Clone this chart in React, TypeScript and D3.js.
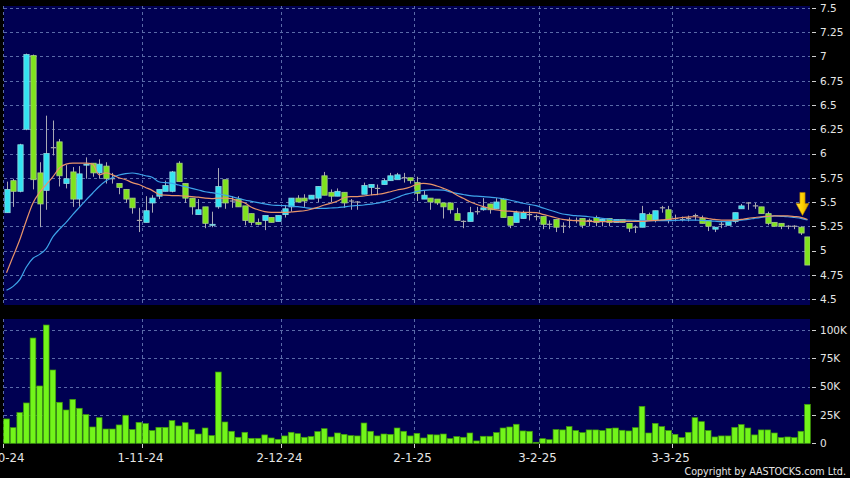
import React from "react";
import * as d3 from "d3";

// Trading days (HK), Oct 2024 - Mar 2025
const dates: string[] = [
  "2024-10-02","2024-10-03","2024-10-04","2024-10-07","2024-10-08","2024-10-09","2024-10-10","2024-10-14","2024-10-15","2024-10-16","2024-10-17","2024-10-18","2024-10-21","2024-10-22","2024-10-23","2024-10-24","2024-10-25","2024-10-28","2024-10-29","2024-10-30","2024-10-31",
  "2024-11-01","2024-11-04","2024-11-05","2024-11-06","2024-11-07","2024-11-08","2024-11-11","2024-11-12","2024-11-13","2024-11-14","2024-11-15","2024-11-18","2024-11-19","2024-11-20","2024-11-21","2024-11-22","2024-11-25","2024-11-26","2024-11-27","2024-11-28","2024-11-29",
  "2024-12-02","2024-12-03","2024-12-04","2024-12-05","2024-12-06","2024-12-09","2024-12-10","2024-12-11","2024-12-12","2024-12-13","2024-12-16","2024-12-17","2024-12-18","2024-12-19","2024-12-20","2024-12-23","2024-12-24","2024-12-27","2024-12-30","2024-12-31",
  "2025-01-02","2025-01-03","2025-01-06","2025-01-07","2025-01-08","2025-01-09","2025-01-10","2025-01-13","2025-01-14","2025-01-15","2025-01-16","2025-01-17","2025-01-20","2025-01-21","2025-01-22","2025-01-23","2025-01-24","2025-01-27","2025-01-28",
  "2025-02-03","2025-02-04","2025-02-05","2025-02-06","2025-02-07","2025-02-10","2025-02-11","2025-02-12","2025-02-13","2025-02-14","2025-02-17","2025-02-18","2025-02-19","2025-02-20","2025-02-21","2025-02-24","2025-02-25","2025-02-26","2025-02-27","2025-02-28",
  "2025-03-03","2025-03-04","2025-03-05","2025-03-06","2025-03-07","2025-03-10","2025-03-11","2025-03-12","2025-03-13","2025-03-14","2025-03-17","2025-03-18","2025-03-19","2025-03-20","2025-03-21","2025-03-24","2025-03-25","2025-03-26","2025-03-27","2025-03-28","2025-03-31",
];

const opens: number[] = [
  5.39,5.72,5.61,6.25,7.01,5.80,5.62,6.06,6.12,5.69,5.81,5.53,5.88,5.90,5.80,5.87,5.74,5.69,5.63,5.54,5.31,
  5.29,5.49,5.56,5.61,5.61,5.90,5.69,5.54,5.37,5.45,5.26,5.45,5.73,5.51,5.53,5.46,5.38,5.29,5.31,5.34,5.30,
  5.37,5.45,5.54,5.54,5.53,5.54,5.77,5.60,5.56,5.60,5.51,5.50,5.58,5.65,5.64,5.68,5.72,5.73,5.75,5.75,
  5.70,5.53,5.54,5.53,5.49,5.49,5.38,5.30,5.30,5.40,5.42,5.48,5.43,5.53,5.35,5.29,5.33,5.37,5.35,
  5.35,5.27,5.32,5.25,5.31,5.31,5.33,5.31,5.34,5.30,5.33,5.29,5.32,5.28,5.24,5.24,5.37,5.31,5.44,5.42,
  5.33,5.32,5.33,5.36,5.33,5.31,5.22,5.27,5.26,5.30,5.43,5.49,5.46,5.45,5.38,5.29,5.28,5.25,5.25,5.24,5.14,
];
const highs: number[] = [
  5.71,5.74,6.10,7.03,7.02,5.91,6.39,6.34,6.15,5.88,5.86,5.87,5.96,5.90,5.94,5.91,5.80,5.69,5.63,5.54,5.44,
  5.56,5.57,5.63,5.72,5.82,5.92,5.69,5.54,5.53,5.45,5.40,5.85,5.73,5.56,5.56,5.46,5.38,5.33,5.36,5.34,5.36,
  5.47,5.54,5.57,5.58,5.57,5.66,5.81,5.63,5.64,5.60,5.53,5.51,5.70,5.68,5.68,5.74,5.80,5.80,5.80,5.75,
  5.76,5.62,5.54,5.53,5.49,5.49,5.44,5.31,5.45,5.45,5.54,5.48,5.54,5.54,5.35,5.41,5.41,5.46,5.37,
  5.35,5.31,5.32,5.29,5.34,5.34,5.33,5.33,5.36,5.32,5.33,5.32,5.32,5.28,5.26,5.46,5.39,5.41,5.46,5.46,
  5.37,5.35,5.36,5.38,5.36,5.31,5.24,5.30,5.30,5.39,5.48,5.50,5.49,5.45,5.40,5.29,5.28,5.26,5.26,5.25,5.14,
];
const lows: number[] = [
  5.39,5.45,5.60,6.24,5.63,5.24,5.42,5.98,5.66,5.64,5.45,5.45,5.74,5.76,5.74,5.69,5.69,5.58,5.49,5.38,5.19,
  5.29,5.39,5.53,5.61,5.60,5.71,5.49,5.37,5.37,5.23,5.24,5.43,5.43,5.44,5.45,5.26,5.26,5.26,5.21,5.29,5.30,
  5.34,5.40,5.50,5.45,5.53,5.50,5.57,5.50,5.56,5.44,5.42,5.42,5.58,5.57,5.57,5.68,5.72,5.73,5.70,5.69,
  5.51,5.53,5.42,5.47,5.33,5.38,5.31,5.23,5.30,5.37,5.41,5.38,5.43,5.34,5.23,5.29,5.33,5.31,5.31,
  5.22,5.22,5.19,5.18,5.23,5.28,5.23,5.25,5.25,5.25,5.25,5.29,5.29,5.19,5.18,5.24,5.31,5.29,5.39,5.28,
  5.30,5.30,5.30,5.31,5.28,5.20,5.19,5.23,5.26,5.28,5.43,5.42,5.43,5.38,5.26,5.25,5.22,5.22,5.22,5.16,4.85,
];
const closes: number[] = [
  5.63,5.61,6.09,7.02,5.73,5.48,6.00,6.06,5.77,5.74,5.53,5.79,5.89,5.80,5.89,5.74,5.74,5.65,5.53,5.44,5.31,
  5.41,5.54,5.63,5.67,5.81,5.71,5.54,5.45,5.42,5.28,5.27,5.66,5.49,5.51,5.45,5.31,5.29,5.27,5.36,5.29,5.36,
  5.43,5.54,5.50,5.51,5.57,5.66,5.57,5.56,5.61,5.49,5.51,5.50,5.67,5.68,5.64,5.72,5.77,5.78,5.75,5.72,
  5.59,5.57,5.50,5.49,5.45,5.42,5.31,5.30,5.39,5.40,5.44,5.42,5.50,5.34,5.26,5.39,5.39,5.37,5.35,
  5.27,5.27,5.24,5.25,5.31,5.31,5.26,5.31,5.29,5.32,5.29,5.32,5.29,5.23,5.24,5.38,5.31,5.41,5.44,5.32,
  5.33,5.32,5.33,5.36,5.28,5.25,5.24,5.27,5.30,5.39,5.46,5.49,5.46,5.38,5.28,5.25,5.25,5.25,5.25,5.18,4.85,
];
// volume in shares
const volumes: number[] = [
  21500,13800,27100,35600,92900,50600,104400,64700,36200,29400,38800,30900,25300,14400,22600,12600,12600,16200,24700,12100,18500,
  17400,11200,14100,14100,20000,15300,18200,12100,8200,13500,6800,62900,18800,10600,5300,9700,4400,4400,7400,4700,3500,
  6500,9700,8500,5300,5900,10300,12900,5600,9100,7900,6800,6500,17900,10600,6500,8200,7900,13500,10600,6500,
  8800,4700,7600,7400,8200,4100,5900,5300,9100,2100,6200,6200,9400,13500,14400,16800,10900,10600,900,
  4100,3200,12100,11800,14700,11200,9400,11800,11800,11200,13200,13500,11500,10900,13800,32600,9100,17600,14700,11200,
  7900,5000,9700,22600,19100,11200,5600,6500,6500,14100,16500,13500,7400,11800,11800,9100,5000,5600,5000,10600,34400,
];
// short moving average (orange)
const maShort: number[] = [
  4.77,4.94,5.11,5.31,5.49,5.60,5.68,5.76,5.85,5.89,5.90,5.90,5.90,5.89,5.78,5.80,5.78,5.75,5.73,5.70,5.68,
  5.65,5.62,5.58,5.57,5.565,5.565,5.56,5.555,5.55,5.54,5.535,5.54,5.54,5.535,5.51,5.49,5.445,5.42,5.40,5.393,5.393,
  5.393,5.397,5.404,5.41,5.425,5.445,5.469,5.487,5.51,5.544,5.555,5.555,5.562,5.572,5.579,5.589,5.606,5.624,5.635,5.655,
  5.682,5.693,5.685,5.665,5.641,5.613,5.572,5.538,5.503,5.476,5.452,5.435,5.418,5.41,5.405,5.40,5.393,5.393,5.39,
  5.373,5.356,5.338,5.321,5.314,5.307,5.304,5.30,5.297,5.297,5.297,5.297,5.30,5.30,5.30,5.30,5.305,5.31,5.315,5.321,
  5.33,5.34,5.345,5.348,5.34,5.33,5.32,5.314,5.314,5.314,5.32,5.332,5.34,5.348,5.352,5.356,5.356,5.356,5.35,5.342,5.32,
];
// long moving average (blue)
const maLong: number[] = [
  4.59,4.63,4.70,4.83,4.92,4.96,5.02,5.14,5.22,5.29,5.37,5.445,5.52,5.59,5.66,5.716,5.751,5.778,5.792,5.799,5.789,
  5.771,5.755,5.709,5.699,5.693,5.675,5.658,5.641,5.624,5.606,5.596,5.585,5.57,5.555,5.538,5.521,5.507,5.493,5.48,5.469,5.465,
  5.462,5.457,5.452,5.443,5.435,5.435,5.435,5.438,5.441,5.45,5.459,5.464,5.469,5.478,5.487,5.504,5.521,5.546,5.572,5.59,
  5.61,5.62,5.624,5.624,5.622,5.605,5.589,5.577,5.565,5.56,5.555,5.55,5.544,5.532,5.521,5.504,5.487,5.475,5.462,
  5.44,5.418,5.397,5.376,5.367,5.359,5.354,5.348,5.34,5.332,5.323,5.314,5.314,5.314,5.31,5.307,5.307,5.307,5.307,5.307,
  5.31,5.312,5.314,5.314,5.31,5.307,5.302,5.297,5.30,5.307,5.314,5.321,5.332,5.342,5.35,5.356,5.352,5.348,5.34,5.332,5.314,
];

const monthStarts: string[] = ["2024-10-02","2024-11-01","2024-12-02","2025-01-02","2025-02-03","2025-03-03"];
const monthLabels: string[] = ["2-10-24","1-11-24","2-12-24","2-1-25","3-2-25","3-3-25"];
const priceTicks: number[] = [4.5,4.75,5,5.25,5.5,5.75,6,6.25,6.5,6.75,7,7.25,7.5];
const volTicks: number[] = [0,25000,50000,75000,100000];
const volTickLabels: string[] = ["0","25K","50K","75K","100K"];
const copyright = "Copyright by AASTOCKS.com Ltd.";

const W = 850, H = 478;
const PL = 4, PR = 810;
const priceTop = 6, priceBottom = 305;
const volTop = 319, volBottom = 443.5;

const BG = "#000052";
const GRID = "#5a6aa8";
const CYAN = "#33e3f2";
const GREEN = "#7fe31c";
const FONT = "'DejaVu Sans', Verdana, sans-serif";

export default function App() {
  const x = d3.scaleBand<string>().domain(dates).range([3.2, 810.8]).paddingInner(0).paddingOuter(0);
  const step = x.step();
  const cx = (d: string) => (x(d) as number) + step / 2;
  const yP = d3.scaleLinear().domain([4.5, 7.5]).range([299, 8]);
  const yV = d3.scaleLinear().domain([0, 100000]).range([443.3, 330]);

  const bodyW = step * 0.8;
  const volW = step * 0.86;

  const lineShort = d3.line<number>().x((_, i) => cx(dates[i])).y((v) => yP(v)).curve(d3.curveMonotoneX);
  const lineLong = d3.line<number>().x((_, i) => cx(dates[i])).y((v) => yP(v)).curve(d3.curveMonotoneX);

  const last = dates.length - 1;
  const ax = cx(dates[last]) - 5;
  const atip = yP(maShort[last]) - 4;

  return (
    <div>
      <style>{`body{margin:0;background:#000;}`}</style>
      <svg width={W} height={H} style={{ display: "block", background: "#000" }} fontFamily={FONT}>
        <defs>
          <linearGradient id="arrowG" x1="0" x2="1" y1="0" y2="0">
            <stop offset="0" stopColor="#ffe040" />
            <stop offset="0.5" stopColor="#ffd000" />
            <stop offset="1" stopColor="#d89a00" />
          </linearGradient>
          <clipPath id="pclip"><rect x={PL} y={priceTop} width={PR - PL} height={priceBottom - priceTop} /></clipPath>
        </defs>

        {/* price panel */}
        <rect x={PL} y={priceTop} width={PR - PL} height={priceBottom - priceTop} fill={BG} />
        {priceTicks.map((t) => (
          <line key={"pg" + t} x1={PL} x2={PR} y1={Math.round(yP(t)) + 0.5} y2={Math.round(yP(t)) + 0.5} stroke={GRID} strokeDasharray="3,3" />
        ))}
        {monthStarts.map((d) => (
          <line key={"pv" + d} x1={Math.round(x(d) as number) + 0.5} x2={Math.round(x(d) as number) + 0.5} y1={priceTop} y2={priceBottom} stroke={GRID} strokeDasharray="3,3" />
        ))}

        <g clipPath="url(#pclip)">
          {dates.map((d, i) => {
            const o = opens[i], c = closes[i], h = highs[i], l = lows[i];
            const xc = Math.round(cx(d)) + 0.5;
            const up = c > o, down = c < o;
            const color = up ? CYAN : down ? GREEN : "#a8a8a8";
            const top = yP(Math.max(o, c));
            const bot = yP(Math.min(o, c));
            return (
              <g key={"c" + d}>
                <line x1={xc} x2={xc} y1={yP(h)} y2={yP(l)} stroke="#a9a9b4" strokeWidth={1} />
                {up || down ? (
                  <rect x={xc - bodyW / 2} y={top} width={bodyW} height={Math.max(1, bot - top)} fill={color} stroke={up ? "#8fd8e0" : "#a9cc86"} strokeWidth={0.8} />
                ) : (
                  <line x1={xc - bodyW / 2} x2={xc + bodyW / 2} y1={top} y2={top} stroke="#a8a8a8" strokeWidth={1.2} />
                )}
              </g>
            );
          })}
          <path d={lineLong(maLong) || ""} fill="none" stroke="#3ea4ea" strokeWidth={1.2} />
          <path d={lineShort(maShort) || ""} fill="none" stroke="#e8946a" strokeWidth={1.2} />
        </g>

        {/* arrow */}
        <path
          d={`M${ax - 2.6},${atip - 23} L${ax + 2.6},${atip - 23} L${ax + 2.6},${atip - 12} L${ax + 6.5},${atip - 12} L${ax},${atip} L${ax - 6.5},${atip - 12} L${ax - 2.6},${atip - 12} Z`}
          fill="url(#arrowG)"
          stroke="#b07800"
          strokeWidth={0.6}
        />

        {/* price axis */}
        {priceTicks.map((t) => (
          <g key={"pl" + t}>
            <line x1={812} x2={816} y1={Math.round(yP(t)) + 0.5} y2={Math.round(yP(t)) + 0.5} stroke="#d0d0d0" />
            <text x={820} y={yP(t)} dy="0.36em" fill="#e6e6e6" fontSize={10.5}>{String(t)}</text>
          </g>
        ))}

        {/* volume panel */}
        <rect x={PL} y={volTop} width={PR - PL} height={volBottom - volTop} fill={BG} />
        {volTicks.slice(1).map((t) => (
          <line key={"vg" + t} x1={PL} x2={PR} y1={Math.round(yV(t)) + 0.5} y2={Math.round(yV(t)) + 0.5} stroke={GRID} strokeDasharray="3,3" />
        ))}
        {monthStarts.map((d) => (
          <line key={"vv" + d} x1={Math.round(x(d) as number) + 0.5} x2={Math.round(x(d) as number) + 0.5} y1={volTop} y2={volBottom} stroke={GRID} strokeDasharray="3,3" />
        ))}
        {dates.map((d, i) => (
          <rect key={"v" + d} x={cx(d) - volW / 2} y={yV(volumes[i])} width={volW} height={yV(0) - yV(volumes[i])} fill="#72f51a" stroke="#3f9a0a" strokeWidth={0.7} />
        ))}
        {volTicks.map((t, i) => (
          <g key={"vl" + t}>
            <line x1={812} x2={816} y1={Math.round(yV(t)) + 0.5} y2={Math.round(yV(t)) + 0.5} stroke="#d0d0d0" />
            <text x={820} y={yV(t)} dy="0.36em" fill="#e6e6e6" fontSize={10.5}>{volTickLabels[i]}</text>
          </g>
        ))}

        {/* x axis */}
        {monthStarts.map((d, i) => {
          const xx = Math.round(x(d) as number) + 0.5;
          return (
            <g key={"xl" + d}>
              <line x1={xx} x2={xx} y1={444} y2={448} stroke="#d0d0d0" />
              <text x={xx - 2} y={462} textAnchor="middle" fill="#e6e6e6" fontSize={11.8}>{monthLabels[i]}</text>
            </g>
          );
        })}

        <text x={846} y={475} textAnchor="end" fill="#e6e6e6" fontSize={9.6}>{copyright}</text>
      </svg>
    </div>
  );
}
